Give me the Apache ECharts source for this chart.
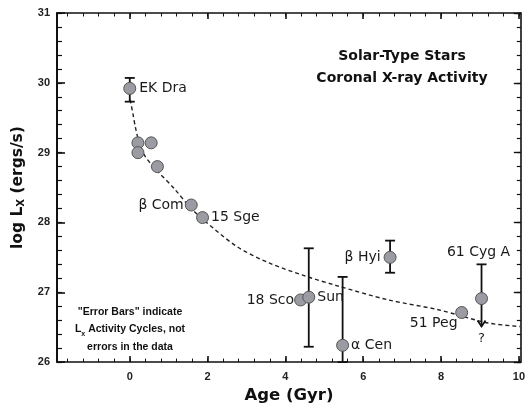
<!DOCTYPE html>
<html><head><meta charset="utf-8">
<script src="https://cdn.jsdelivr.net/npm/echarts@6/dist/echarts.min.js"></script>
<style>html,body{margin:0;padding:0;background:#fff}#c{width:528px;height:409px}</style>
</head><body><div id="c"></div>
<script>
// ---- data ----
const starNames = ['EK Dra', '', '', '', '', 'β Com', '15 Sge', '18 Sco', 'Sun', 'α Cen', 'β Hyi', '51 Peg', '61 Cyg A'];
const starAge   = [0.0, 0.21, 0.55, 0.21, 0.71, 1.58, 1.87, 4.39, 4.60, 5.47, 6.69, 8.53, 9.04];
const starLogLx = [29.92, 29.14, 29.14, 29.0, 28.80, 28.25, 28.07, 26.89, 26.93, 26.24, 27.50, 26.71, 26.91];

const errAge   = [0.0, 4.60, 5.47, 6.69, 9.04];
const errLow   = [29.73, 26.22, 26.0, 27.28, 26.51];
const errHigh  = [30.07, 27.63, 27.22, 27.74, 27.40];
const errLowerLimit = [false, false, false, false, true];

const fitAge   = [0.01, 0.08, 0.15, 0.23, 0.38, 0.56, 0.72, 1.15, 1.53, 1.89, 2.74, 3.58, 4.53, 5.29, 6.65, 7.93, 9.21, 10.03];
const fitLogLx = [29.76, 29.56, 29.35, 29.17, 28.96, 28.83, 28.73, 28.48, 28.23, 28.04, 27.66, 27.42, 27.23, 27.10, 26.89, 26.75, 26.56, 26.51];

const xTickLabels = [0, 2, 4, 6, 8, 10];
const yTickLabels = [26, 27, 28, 29, 30, 31];

// ---- layout / style ----
const XMIN = -1.87, XMAX = 10.05;
const xMinor = [];
for (let v = -1.6; v <= 10.001; v += 0.4) xMinor.push(Math.round(v * 10) / 10);

const labelPlacement = {
  'EK Dra':  { position: 'right', distance: 3 },
  'β Com':   { position: 'left', distance: 1 },
  '15 Sge':  { position: 'right', distance: 2 },
  '18 Sco':  { position: 'left', distance: 0 },
  'Sun':     { position: 'right', distance: 2 },
  'α Cen':   { position: 'right', distance: 2 },
  'β Hyi':   { position: 'left', distance: 3 },
  '51 Peg':  { position: 'inside', offset: [-28, 11] },
  '61 Cyg A':{ position: 'inside', offset: [-3, -46] }
};

const pointData = starAge.map((a, i) => {
  const item = { value: [a, starLogLx[i]], name: starNames[i] };
  const lp = labelPlacement[starNames[i]];
  if (lp) item.label = Object.assign({ show: true }, lp);
  return item;
});

const errData = errAge.map((a, i) => [a, errLow[i], errHigh[i], errLowerLimit[i] ? 1 : 0]);

const axisBlack = { color: '#111', width: 1.6 };
const tickFont = { fontFamily: 'Liberation Sans', fontSize: 11, fontWeight: 'bold', color: '#222' };
const hiddenLine = { show: false, onZero: false };

const chart = echarts.init(document.getElementById('c'), null, { renderer: 'canvas' });
chart.setOption({
  animation: false,
  backgroundColor: '#fff',
  grid: { left: 57, right: 5, top: 13, bottom: 41 },
  title: [
    { text: 'Solar-Type Stars\nCoronal X-ray Activity', left: 397, top: 40, textAlign: 'center',
      textStyle: { fontFamily: 'DejaVu Sans', fontSize: 14, fontWeight: 'bold', color: '#111', lineHeight: 22, align: 'center' } },
    { text: '"Error Bars" indicate\n{l|L}{s|x} Activity Cycles, not\nerrors in the data', left: 125, top: 298, textAlign: 'center',
      textStyle: { fontFamily: 'Liberation Sans', fontSize: 10.5, fontWeight: 'bold', color: '#111', lineHeight: 17.5, align: 'center',
        rich: { l: { fontFamily: 'Liberation Sans', fontSize: 10.5, fontWeight: 'bold', color: '#111' },
                s: { fontFamily: 'Liberation Sans', fontSize: 7, fontWeight: 'bold', color: '#111', verticalAlign: 'bottom', padding: [6, 0, 0, 0] } } } }
  ],
  xAxis: [
    { type: 'value', position: 'bottom', min: XMIN, max: XMAX,
      name: 'Age (Gyr)', nameLocation: 'middle', nameGap: 22,
      nameTextStyle: { fontFamily: 'DejaVu Sans', fontSize: 16.5, fontWeight: 'bold', color: '#111' },
      axisLine: { show: true, onZero: false, lineStyle: axisBlack },
      axisTick: { show: true, inside: true, length: 6, customValues: xTickLabels, lineStyle: { color: '#111', width: 1.6 } },
      axisLabel: Object.assign({ customValues: xTickLabels, margin: 9 }, tickFont),
      splitLine: { show: false } },
    { type: 'value', position: 'bottom', min: XMIN, max: XMAX,
      axisLine: hiddenLine,
      axisTick: { show: true, inside: true, length: 3.5, customValues: xMinor, lineStyle: { color: '#111', width: 1 } },
      axisLabel: { show: false }, splitLine: { show: false } },
    { type: 'value', position: 'top', min: XMIN, max: XMAX,
      axisLine: { show: true, onZero: false, lineStyle: axisBlack },
      axisTick: { show: true, inside: true, length: 6, customValues: xTickLabels, lineStyle: { color: '#111', width: 1.6 } },
      axisLabel: { show: false }, splitLine: { show: false } },
    { type: 'value', position: 'top', min: XMIN, max: XMAX,
      axisLine: hiddenLine,
      axisTick: { show: true, inside: true, length: 3.5, customValues: xMinor, lineStyle: { color: '#111', width: 1 } },
      axisLabel: { show: false }, splitLine: { show: false } }
  ],
  yAxis: [
    { type: 'value', position: 'left', min: 26, max: 31, interval: 1,
      name: 'log L{s|X} (ergs/s)', nameLocation: 'middle', nameGap: 29, nameRotate: 90,
      nameTextStyle: { fontFamily: 'DejaVu Sans', fontSize: 15.5, fontWeight: 'bold', color: '#111',
        rich: { s: { fontFamily: 'DejaVu Sans', fontSize: 10, fontWeight: 'bold', color: '#111', verticalAlign: 'bottom', padding: [8, 0, 0, 0] } } },
      axisLine: { show: true, onZero: false, lineStyle: { color: '#111', width: 2 } },
      axisTick: { show: true, inside: true, length: 8, lineStyle: { color: '#111', width: 1.6 } },
      axisLabel: Object.assign({ margin: 7, formatter: v => String(v) }, tickFont),
      splitLine: { show: false } },
    { type: 'value', position: 'left', min: 26, max: 31, interval: 0.2,
      axisLine: hiddenLine,
      axisTick: { show: true, inside: true, length: 5, lineStyle: { color: '#111', width: 1.2 } },
      axisLabel: { show: false }, splitLine: { show: false } },
    { type: 'value', position: 'right', min: 26, max: 31, interval: 1,
      axisLine: { show: true, onZero: false, lineStyle: axisBlack },
      axisTick: { show: true, inside: true, length: 7, lineStyle: { color: '#111', width: 1.4 } },
      axisLabel: { show: false }, splitLine: { show: false } },
    { type: 'value', position: 'right', min: 26, max: 31, interval: 0.2,
      axisLine: hiddenLine,
      axisTick: { show: true, inside: true, length: 4, lineStyle: { color: '#111', width: 1.2 } },
      axisLabel: { show: false }, splitLine: { show: false } }
  ],
  series: [
    { type: 'line', name: 'fit', xAxisIndex: 0, yAxisIndex: 0, smooth: 0.3, symbol: 'none',
      data: fitAge.map((a, i) => [a, fitLogLx[i]]),
      lineStyle: { color: '#222', width: 1.4, type: [4, 3] }, z: 2 },
    { type: 'custom', name: 'err', xAxisIndex: 0, yAxisIndex: 0, z: 3,
      data: errData,
      renderItem: (params, api) => {
        const x = api.value(0), lo = api.value(1), hi = api.value(2), open = api.value(3);
        const pH = api.coord([x, hi]), pL = api.coord([x, lo]);
        const st = { stroke: '#111', lineWidth: 1.8 };
        const w = 5;
        const children = [
          { type: 'line', shape: { x1: pH[0], y1: pH[1], x2: pL[0], y2: pL[1] }, style: st },
          { type: 'line', shape: { x1: pH[0] - w, y1: pH[1], x2: pH[0] + w, y2: pH[1] }, style: st }
        ];
        if (open) {
          children.push({ type: 'polyline', shape: { points: [[pL[0] - 4, pL[1] - 6], [pL[0], pL[1]], [pL[0] + 4, pL[1] - 6]] }, style: { stroke: '#111', lineWidth: 1.8, fill: null } });
          children.push({ type: 'text', style: { text: '?', x: pL[0], y: pL[1] + 12, align: 'center', verticalAlign: 'middle', fontFamily: 'DejaVu Sans', fontSize: 13, fill: '#222' } });
        } else {
          children.push({ type: 'line', shape: { x1: pL[0] - w, y1: pL[1], x2: pL[0] + w, y2: pL[1] }, style: st });
        }
        return { type: 'group', children };
      } },
    { type: 'scatter', name: 'stars', xAxisIndex: 0, yAxisIndex: 0, z: 4,
      symbol: 'circle', symbolSize: 12,
      itemStyle: { color: '#9a9ba3', borderColor: '#555', borderWidth: 1, opacity: 1 },
      label: { show: false, formatter: '{b}', fontFamily: 'DejaVu Sans', fontSize: 14, color: '#1a1a1a' },
      data: pointData }
  ]
});
</script>
</body></html>
